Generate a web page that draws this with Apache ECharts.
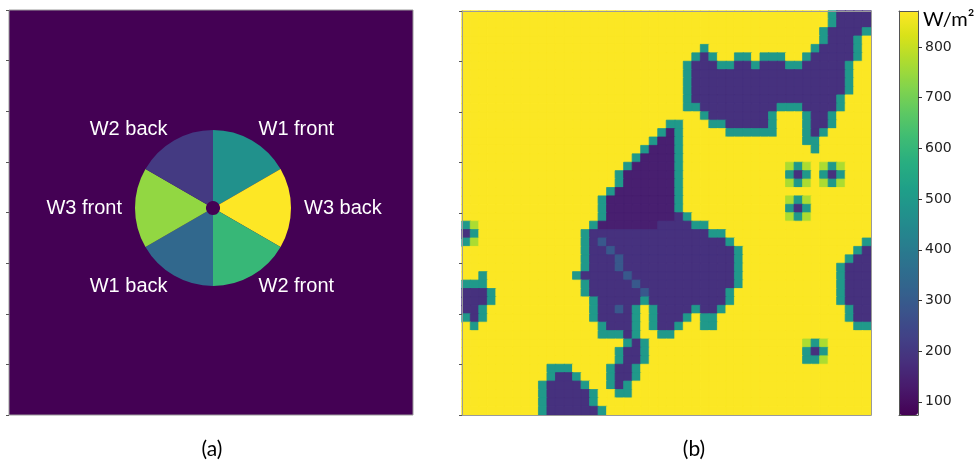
<!DOCTYPE html>
<html>
<head>
<meta charset="utf-8">
<script src="https://cdn.jsdelivr.net/npm/echarts@6/dist/echarts.min.js"></script>
<style>
  html, body { margin: 0; padding: 0; background: #ffffff; }
  #chart { width: 975px; height: 465px; }
</style>
</head>
<body>
<div id="chart"></div>
<script>
// ---------------- Panel (a): sector layout ----------------
const sectorNames  = ['W1 front', 'W3 back', 'W2 front', 'W1 back', 'W3 front', 'W2 back'];
const sectorShares = [1, 1, 1, 1, 1, 1];          // six equal 60° sectors
const sectorLevels = [3, 6, 4, 2, 5, 1];          // colour level of each sector
const levelMax = 6;
const backgroundLevel = 0;

// ---------------- Panel (b): irradiance map (W/m²) ----------------
// one character per cell, rows top -> bottom
const levelKeys       = ['.',  'g', 'e', '#', 'd', 'l'];
const levelIrradiance = [868,  770, 500, 185, 140, 290];
const irradianceRows = [
  "........ ........ ........ ........ ........ ...e####",
  "........ ........ ........ ........ ........ ...e####",
  "........ ........ ........ ........ ........ ..e####e",
  "........ ........ ........ ........ ........ ..e###e.",
  "........ ........ ........ ....e... ........ .e####e.",
  "........ ........ ........ ...e#e.. ee.eee.. e#####e.",
  "........ ........ ........ ..e###ee ##e###ee #####e..",
  "........ ........ ........ ..e##### ######## #####e..",
  "........ ........ ........ ..e##### ######## #####e..",
  "........ ........ ........ ..e##### ######## #####e..",
  "........ ........ ........ ..e##### ######## ####e...",
  "........ ........ ........ ..ee#### #####eee ####e...",
  "........ ........ ........ ....e### ####e... e##e....",
  "........ ........ ........ ee...ee# ####e... e##e....",
  "........ ........ .......e de.....e eeeee... e#e.....",
  "........ ........ ......ed de...... ........ ee......",
  "........ ........ .....edd de...... ........ .e......",
  "........ ........ ....eddd de...... ........ ........",
  "........ ........ ...edddd de...... ......ge g.geg...",
  "........ ........ ..eddddd de...... ......e# e.e#e...",
  "........ ........ ..eddddd de...... ......ge g.geg...",
  "........ ........ .edddddd de...... ........ ........",
  "........ ........ eddddddd de...... ......ge g.......",
  "........ ........ eddddddd de...... ......e# e.......",
  "........ ........ eddddddd d#e..... ......ge g.......",
  "eg...... .......e ddddddd# ###ee... ........ ........",
  "#e...... ......e# ######## #####ee. ........ ........",
  "eg...... ......e# l####### #######e ........ .......e",
  "........ ......e# #l###### ######## e....... ......e#",
  "........ ......e# ##l##### ######## e....... .....e##",
  "........ ......e# ##l##### ######## e....... ....e###",
  "..e..... .....e## ###l#### ######## e....... ....e###",
  "eee..... ......e# ####l### ######## e....... ....e###",
  "###e.... ......e# #####l## #######e ........ ....e###",
  "###e.... .......e #####e## #######e ........ ....e###",
  "##e..... .......e ##l#e.e# ###e##e. ........ .....e##",
  "e#e..... .......e ####e.e# ##e.ee.. ........ .....e##",
  ".e...... ........ e###e.e# #e..ee.. ........ ......ee",
  "........ ........ eee#e..e e....... ........ ........",
  "........ ........ ...e#e.. ........ ........ geg.....",
  "........ ........ ..e##e.. ........ ........ e#e.....",
  "........ ........ ..e##e.. ........ ........ eeg.....",
  "........ ..eee... .e##e... ........ ........ ........",
  "........ ..e##e.. .e##e... ........ ........ ........",
  "........ .e####e. .e#e.... ........ ........ ........",
  "........ .e#####e ..ee.... ........ ........ ........",
  "........ .e#####e ........ ........ ........ ........",
  "........ .e###### e....... ........ ........ ........"
];

// colour bar range (W/m²)
const colorbarMin = 74;
const colorbarMax = 871;

// ---------------- viridis ----------------
const VIRIDIS = ['#440154','#48186a','#472d7b','#424086','#3b528b','#33638d','#2c728e',
  '#26828e','#21918c','#1fa088','#28ae80','#3fbc73','#5ec962','#84d44b','#addc30','#d8e219','#fde725'];
function hexToRgb(h) { return [1, 3, 5].map(i => parseInt(h.substr(i, 2), 16)); }
function viridis(t) {
  t = Math.max(0, Math.min(1, t));
  const n = VIRIDIS.length - 1;
  const f = t * n;
  const i = Math.min(Math.floor(f), n - 1);
  const u = f - i;
  const a = hexToRgb(VIRIDIS[i]), b = hexToRgb(VIRIDIS[i + 1]);
  const c = a.map((v, k) => Math.round(v + (b[k] - v) * u));
  return 'rgb(' + c.join(',') + ')';
}

// ---------------- build data ----------------
const gridRows = irradianceRows.map(r => r.replace(/ /g, ''));
const nRows = gridRows.length;
const nCols = gridRows[0].length;
const colCats = Array.from({ length: nCols }, (_, i) => String(i));
const rowCats = Array.from({ length: nRows }, (_, i) => String(i));
const heatData = [];
gridRows.forEach((row, r) => {
  for (let c = 0; c < row.length; c++) {
    const v = levelIrradiance[levelKeys.indexOf(row[c])];
    heatData.push({
      value: [c, r, v],
      // border in the cell's own colour hides anti-aliasing seams between cells
      itemStyle: { borderColor: viridis((v - colorbarMin) / (colorbarMax - colorbarMin)), borderWidth: 0.8 }
    });
  }
});
const pieData = sectorNames.map((name, i) => ({
  name: name,
  value: sectorShares[i],
  itemStyle: { color: viridis(sectorLevels[i] / levelMax) }
}));

const frameColor = '#9a9a9a';
const chart = echarts.init(document.getElementById('chart'), null, { renderer: 'canvas' });
const option = {
  animation: false,
  backgroundColor: '#ffffff',
  textStyle: { fontFamily: 'DejaVu Sans' },
  grid: [
    { left: 9, top: 10, width: 404, height: 405, show: true,
      backgroundColor: viridis(backgroundLevel / levelMax), borderColor: frameColor, borderWidth: 1 },
    { left: 462, top: 11, width: 409, height: 404, show: false },
    { left: 899, top: 11, width: 19, height: 404, show: false }
  ],
  xAxis: [
    { gridIndex: 0, type: 'value', min: 0, max: 8, show: false },
    { gridIndex: 1, type: 'category', data: colCats, position: 'bottom', z: 5,
      axisLine: { show: true, lineStyle: { color: frameColor } }, axisTick: { show: false }, axisLabel: { show: false } },
    { gridIndex: 1, type: 'category', data: colCats, position: 'top', z: 5,
      axisLine: { show: true, lineStyle: { color: frameColor } }, axisTick: { show: false }, axisLabel: { show: false } },
    { gridIndex: 2, type: 'value', min: 0, max: 1, position: 'bottom', z: 10,
      axisLine: { show: true, onZero: false, lineStyle: { color: '#555' } }, axisTick: { show: false }, axisLabel: { show: false }, splitLine: { show: false } },
    { gridIndex: 2, type: 'value', min: 0, max: 1, position: 'top', z: 10,
      axisLine: { show: true, onZero: false, lineStyle: { color: '#555' } }, axisTick: { show: false }, axisLabel: { show: false }, splitLine: { show: false } }
  ],
  yAxis: [
    { gridIndex: 0, type: 'value', min: 0, max: 8, interval: 1,
      axisLine: { show: false }, axisTick: { show: true, length: 3, lineStyle: { color: '#555' } },
      axisLabel: { show: false }, splitLine: { show: false } },
    { gridIndex: 1, type: 'category', data: rowCats, inverse: true, position: 'left', z: 5,
      axisLine: { show: true, lineStyle: { color: frameColor } },
      axisTick: { show: true, interval: 5, length: 3, lineStyle: { color: '#555' } },
      axisLabel: { show: false }, splitLine: { show: false } },
    { gridIndex: 1, type: 'category', data: rowCats, inverse: true, position: 'right', z: 5,
      axisLine: { show: true, lineStyle: { color: frameColor } }, axisTick: { show: false }, axisLabel: { show: false } },
    { gridIndex: 2, type: 'value', min: colorbarMin, max: colorbarMax, splitNumber: 8, position: 'right', z: 10,
      axisLine: { show: true, onZero: false, lineStyle: { color: '#555' } },
      axisTick: { show: true, length: 4, lineStyle: { color: '#333' } },
      axisLabel: { show: true, fontSize: 14, color: '#222', fontFamily: 'DejaVu Sans', margin: 7,
                   showMinLabel: false, showMaxLabel: false },
      splitLine: { show: false } },
    { gridIndex: 2, type: 'value', min: colorbarMin, max: colorbarMax, position: 'left', z: 10,
      axisLine: { show: true, onZero: false, lineStyle: { color: '#555' } }, axisTick: { show: false },
      axisLabel: { show: false }, splitLine: { show: false } }
  ],
  visualMap: {
    type: 'continuous', seriesIndex: 1, min: colorbarMin, max: colorbarMax,
    orient: 'vertical', left: 899, top: 11, itemWidth: 19, itemHeight: 404,
    padding: 0, calculable: false, hoverLink: false, showLabel: false,
    inRange: { color: VIRIDIS }, z: 3
  },
  graphic: [
    { type: 'text', x: 212, y: 449, style: { text: '(a)', font: '21px Lato', fill: '#000', align: 'center', verticalAlign: 'middle' } },
    { type: 'text', x: 694, y: 449, style: { text: '(b)', font: '21px Lato', fill: '#000', align: 'center', verticalAlign: 'middle' } },
    { type: 'text', x: 923, y: 20, style: { text: 'W/m²', font: '20px Lato', fill: '#000', align: 'left', verticalAlign: 'middle' } }
  ],
  series: [
    {
      type: 'pie', center: [213, 208], radius: [7, 78], startAngle: 90, clockwise: true,
      avoidLabelOverlap: false, silent: true,
      label: { show: true, position: 'outside', color: '#ffffff', fontSize: 20,
               fontFamily: 'Liberation Sans', distanceToLabelLine: 0, formatter: '{b}' },
      labelLine: { show: false, length: 13, length2: 0 },
      itemStyle: { borderWidth: 0 },
      data: pieData
    },
    {
      type: 'heatmap', xAxisIndex: 1, yAxisIndex: 1, data: heatData,
      progressive: 0, silent: true
    }
  ]
};
chart.setOption(option);
</script>
</body>
</html>
